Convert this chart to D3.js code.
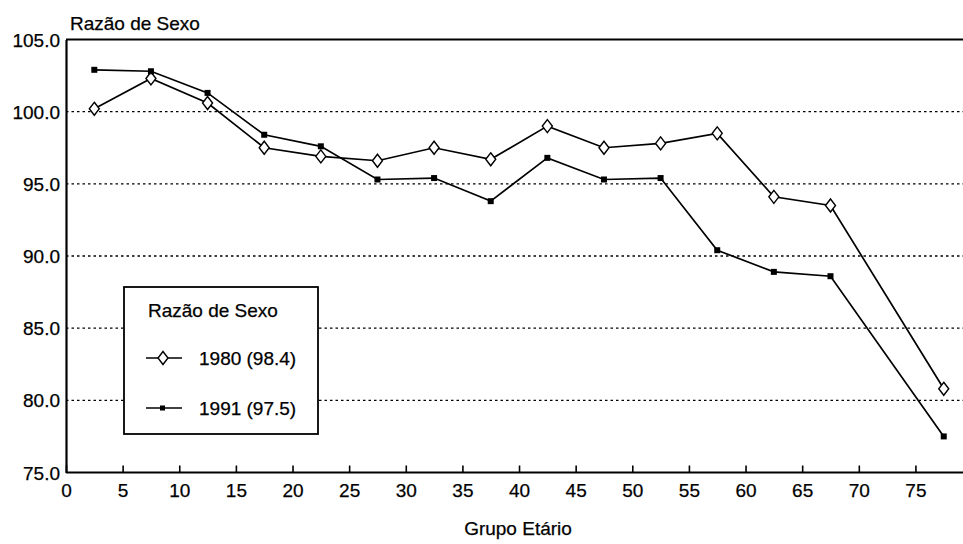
<!DOCTYPE html>
<html><head><meta charset="utf-8">
<script src="https://cdn.jsdelivr.net/npm/d3@7"></script>
<style>body{margin:0;background:#fff}svg{display:block}text{font-family:"Liberation Sans",Arial,sans-serif;fill:#000;stroke:#000;stroke-width:0.25px}</style>
</head><body><svg id="c" width="963" height="544"></svg>
<script>
const ages = [2.5,7.5,12.5,17.5,22.5,27.5,32.5,37.5,42.5,47.5,52.5,57.5,62.5,67.5,77.5];
const v1980 = [100.2,102.3,100.6,97.5,96.9,96.6,97.5,96.7,99.0,97.5,97.8,98.5,94.1,93.5,80.8];
const v1991 = [102.9,102.8,101.3,98.4,97.6,95.3,95.4,93.8,96.8,95.3,95.4,90.4,88.9,88.6,77.5];
const xTicks = [0,5,10,15,20,25,30,35,40,45,50,55,60,65,70,75];
const yTicks = [75,80,85,90,95,100,105];
const yTitle = "Razão de Sexo";
const xTitle = "Grupo Etário";
const legendTitle = "Razão de Sexo";
const legendLabels = ["1980 (98.4)","1991 (97.5)"];

const FS = "19px";
const svg = d3.select("#c");
const x = d3.scaleLinear().domain([0,79.2]).range([66,963]);
const y = d3.scaleLinear().domain([75,105]).range([472.5,39.5]);

// gridlines
svg.append("g").selectAll("line").data(yTicks.filter(d=>d>75&&d<105)).join("line")
  .attr("x1",x(0)).attr("x2",963).attr("y1",d=>y(d)).attr("y2",d=>y(d))
  .attr("stroke","#000").attr("stroke-width",1.4).attr("stroke-dasharray","2.5,3");
// top border
svg.append("line").attr("x1",x(0)).attr("x2",963).attr("y1",y(105)).attr("y2",y(105))
  .attr("stroke","#000").attr("stroke-width",2);

// y axis
const ya = svg.append("g").attr("transform",`translate(${x(0)},0)`)
  .call(d3.axisLeft(y).tickValues(yTicks).tickFormat(d3.format(".1f")).tickSize(0).tickPadding(6));
ya.select(".domain").attr("stroke-width",2.2);
ya.selectAll("text").style("font-size",FS).attr("dy","0.35em");

// x axis
const xa = svg.append("g").attr("transform",`translate(0,${y(75)})`)
  .call(d3.axisBottom(x).tickValues(xTicks).tickSize(-7).tickPadding(4));
xa.select(".domain").attr("stroke-width",2.2).attr("d",`M${x(0)},0H963`);
xa.selectAll(".tick line").attr("stroke-width",1.6);
xa.selectAll("text").style("font-size",FS).attr("dy",null).attr("y",24);

// titles
svg.append("text").attr("x",70).attr("y",30).style("font-size",FS).text(yTitle);
svg.append("text").attr("x",518).attr("y",535).attr("text-anchor","middle").style("font-size",FS).text(xTitle);

const line = d3.line().x((d,i)=>x(ages[i])).y(d=>y(d));
svg.append("path").datum(v1991).attr("d",line).attr("fill","none").attr("stroke","#000").attr("stroke-width",1.7);
svg.append("path").datum(v1980).attr("d",line).attr("fill","none").attr("stroke","#000").attr("stroke-width",1.7);

const diamond = (cx,cy)=>`M${cx},${cy-6.5}L${cx+5},${cy}L${cx},${cy+6.5}L${cx-5},${cy}Z`;
svg.append("g").selectAll("path").data(v1980).join("path")
  .attr("d",(d,i)=>diamond(x(ages[i]),y(d))).attr("fill","#fff").attr("stroke","#000").attr("stroke-width",1.4);
svg.append("g").selectAll("rect").data(v1991).join("rect")
  .attr("x",(d,i)=>x(ages[i])-3).attr("y",d=>y(d)-3).attr("width",6).attr("height",6).attr("fill","#000");

// legend
const lg = svg.append("g");
lg.append("rect").attr("x",124).attr("y",287).attr("width",194).attr("height",147)
  .attr("fill","#fff").attr("stroke","#000").attr("stroke-width",1.8);
lg.append("text").attr("x",148).attr("y",317).style("font-size",FS).text(legendTitle);
const ly = [358,408];
ly.forEach((yy,i)=>{
  lg.append("line").attr("x1",146).attr("x2",182).attr("y1",yy).attr("y2",yy).attr("stroke","#000").attr("stroke-width",1.7);
  if(i===0) lg.append("path").attr("d",diamond(163,yy)).attr("fill","#fff").attr("stroke","#000").attr("stroke-width",1.4);
  else lg.append("rect").attr("x",160).attr("y",yy-2.5).attr("width",5).attr("height",5).attr("fill","#000");
  lg.append("text").attr("x",199).attr("y",yy).attr("dy","0.35em").style("font-size",FS).text(legendLabels[i]);
});
</script></body></html>
